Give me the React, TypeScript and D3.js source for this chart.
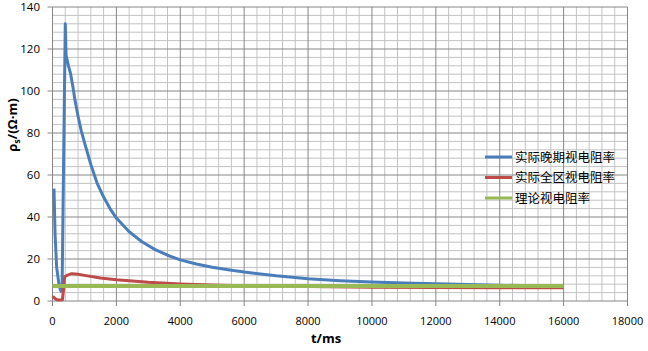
import React from "react";
import * as d3 from "d3";

const xTicks = [0, 2000, 4000, 6000, 8000, 10000, 12000, 14000, 16000, 18000];
const yTicks = [0, 20, 40, 60, 80, 100, 120, 140];

const lateTime: [number, number][] = [
  [47, 53.5], [80, 32], [130, 16], [210, 7], [265, 4.6], [300, 6], [400, 132],
  [425, 117], [500, 112], [570, 108], [650, 101], [700, 96], [800, 88], [900, 81],
  [1000, 75.5], [1200, 65], [1400, 56], [1600, 49.5], [1800, 44], [2000, 39.5],
  [2400, 33], [2800, 28.2], [3200, 24.6], [3600, 21.8], [4000, 19.6], [4500, 17.6],
  [5000, 16.1], [5500, 14.9], [6000, 13.8], [7000, 12], [8000, 10.6], [9000, 9.7],
  [10000, 9.1], [11000, 8.6], [12000, 8.2], [13000, 7.8], [14000, 7.5], [15000, 7.3], [16000, 7.1],
];

const allTime: [number, number][] = [
  [10, 2.3], [60, 1.4], [120, 0.7], [200, 0.5], [310, 0.6], [350, 6], [380, 11.5],
  [450, 12.2], [600, 13], [800, 12.7], [1000, 12.2], [1500, 11], [2000, 10.1],
  [3000, 8.9], [4000, 8.1], [5000, 7.6], [6000, 7.3], [8000, 6.9], [10000, 6.6],
  [12000, 6.4], [14000, 6.3], [16000, 6.3],
];

const theory: [number, number][] = [
  [0, 7.1], [16000, 7.1],
];

const seriesNames = ["实际晚期视电阻率", "实际全区视电阻率", "理论视电阻率"];
const seriesColors = ["#4a7ebb", "#be4b48", "#98b954"];
const seriesWidths = [3, 3, 4];

export default function App() {
  const W = 648, H = 351;
  const x = d3.scaleLinear().domain([0, 18000]).range([52.5, 627.5]);
  const y = d3.scaleLinear().domain([0, 140]).range([301, 7]);
  const line = d3.line<[number, number]>().x(d => x(d[0])).y(d => y(d[1]));

  const minorX = d3.range(0, 18000 + 1, 400).filter(v => v % 2000 !== 0);
  const minorY = d3.range(0, 140 + 1, 4).filter(v => v % 20 !== 0);
  const datasets = [lateTime, allTime, theory];
  const font = "'Open Sans', 'Liberation Sans', sans-serif";

  return (
    <svg width={W} height={H} style={{ position: "absolute", left: 0, top: 0 }}>
      <rect x={0} y={0} width={W} height={H} fill="#fff" />
      {minorX.map(v => (
        <line key={"mx" + v} x1={x(v)} x2={x(v)} y1={y(0)} y2={y(140)} stroke="#c3c3c3" strokeWidth={1} />
      ))}
      {minorY.map(v => (
        <line key={"my" + v} x1={x(0)} x2={x(18000)} y1={y(v)} y2={y(v)} stroke="#c3c3c3" strokeWidth={1} />
      ))}
      {xTicks.map(v => (
        <line key={"gx" + v} x1={x(v)} x2={x(v)} y1={y(0)} y2={y(140)} stroke="#868686" strokeWidth={1} />
      ))}
      {yTicks.map(v => (
        <line key={"gy" + v} x1={x(0)} x2={x(18000)} y1={y(v)} y2={y(v)} stroke="#868686" strokeWidth={1} />
      ))}
      {xTicks.map(v => (
        <line key={"tx" + v} x1={x(v)} x2={x(v)} y1={y(0)} y2={y(0) + 5} stroke="#868686" />
      ))}
      {yTicks.map(v => (
        <line key={"ty" + v} x1={x(0) - 5} x2={x(0)} y1={y(v)} y2={y(v)} stroke="#868686" />
      ))}
      {xTicks.map(v => (
        <text key={"lx" + v} x={x(v)} y={325} textAnchor="middle" fontFamily={font} fontSize={11} fill="#000">
          {v}
        </text>
      ))}
      {yTicks.map(v => (
        <text key={"ly" + v} x={40} y={y(v) + 4} textAnchor="end" fontFamily={font} fontSize={11.5} fill="#000">
          {v}
        </text>
      ))}
      {datasets.map((d, i) => (
        <path key={"s" + i} d={line(d) || ""} fill="none" stroke={seriesColors[i]} strokeWidth={seriesWidths[i]} strokeLinejoin="round" />
      ))}
      {seriesNames.map((n, i) => (
        <g key={"lg" + i} transform={`translate(0, ${157 + i * 20.5})`}>
          <line x1={485} x2={512} y1={0} y2={0} stroke={seriesColors[i]} strokeWidth={3} />
          <text x={515} y={4.5} fontFamily="'Noto Sans CJK SC', sans-serif" fontSize={12.5} fill="#000">
            {n}
          </text>
        </g>
      ))}
      <text x={326} y={343} textAnchor="middle" fontFamily={font} fontSize={13} fontWeight="bold" fill="#000">
        t/ms
      </text>
      <text transform="translate(17, 125) rotate(-90)" textAnchor="middle" fontFamily={font} fontSize={13} fontWeight="bold" fill="#000">
        ρ<tspan fontSize={9} dy={3}>s</tspan><tspan dy={-3}>/(Ω·m)</tspan>
      </text>
    </svg>
  );
}
